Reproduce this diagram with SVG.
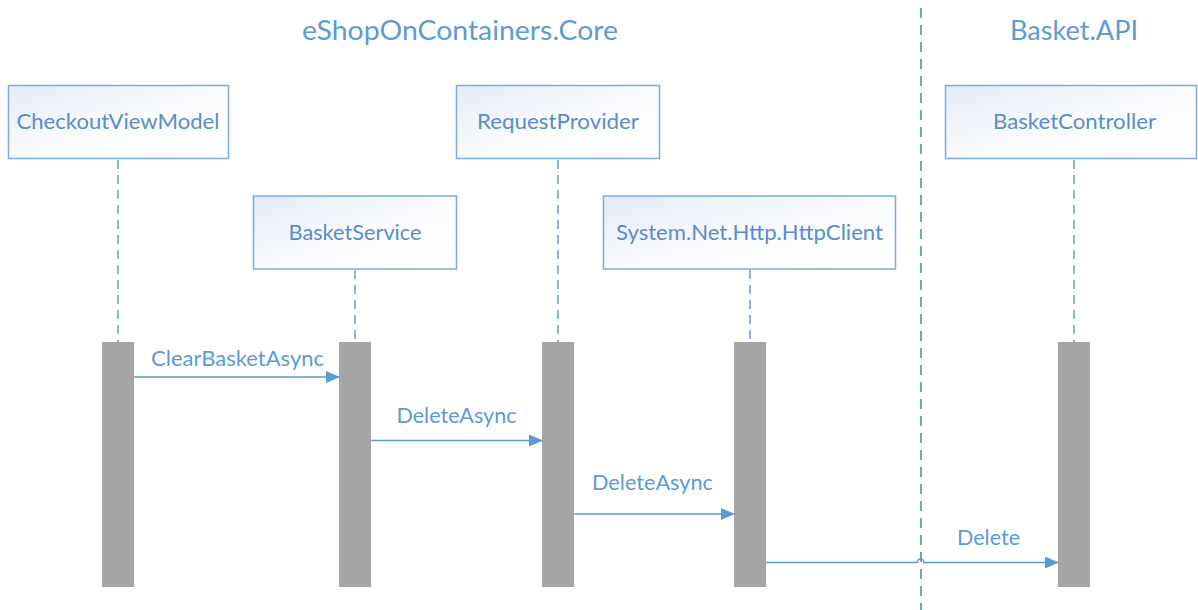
<svg xmlns="http://www.w3.org/2000/svg" width="1198" height="610" viewBox="0 0 1198 610">
<defs>
<linearGradient id="boxfill" x1="0" y1="0" x2="1" y2="1">
<stop offset="0" stop-color="#E4EBF6"/>
<stop offset="0.55" stop-color="#FBFCFE"/>
<stop offset="1" stop-color="#FFFFFF"/>
</linearGradient>
<marker id="arrow" markerWidth="14" markerHeight="12" refX="13" refY="6" orient="auto" markerUnits="userSpaceOnUse">
<path d="M0,0 L14,6 L0,12 Z" fill="#5B9BD5"/>
</marker>
<style>
.box{fill:url(#boxfill);stroke:#7EA9DA;stroke-width:1.5}
.lbl{font-family:Lato,"Open Sans","Liberation Sans",sans-serif;font-size:21px;fill:#5A8CCB;text-anchor:middle}
.title{font-family:Lato,"Open Sans","Liberation Sans",sans-serif;font-size:27px;fill:#5B9BD5;text-anchor:middle}
.msg{font-family:Lato,"Open Sans","Liberation Sans",sans-serif;font-size:21px;fill:#5B9BD5;text-anchor:middle}
.life{stroke:#6FA3DA;stroke-width:1.6;stroke-dasharray:9,6;fill:none}
.sep{stroke:#5B9BD5;stroke-width:1.8;stroke-dasharray:10,7;fill:none}
.bar{fill:#A5A5A5}
.arr{stroke:#5B9BD5;stroke-width:1.5;fill:none;marker-end:url(#arrow)}
</style>
</defs>
<rect width="1198" height="610" fill="#FFFFFF"/>
<text class="title" x="460" y="40" textLength="316" lengthAdjust="spacingAndGlyphs">eShopOnContainers.Core</text>
<text class="title" x="1074" y="40" textLength="128" lengthAdjust="spacingAndGlyphs">Basket.API</text>
<line class="sep" x1="921" y1="8" x2="921" y2="610"/>
<g id="lifelines">
<line class="life" x1="118" y1="160" x2="118" y2="342"/>
<line class="life" x1="355" y1="270" x2="355" y2="342"/>
<line class="life" x1="558" y1="160" x2="558" y2="342"/>
<line class="life" x1="750" y1="270" x2="750" y2="342"/>
<line class="life" x1="1074" y1="160" x2="1074" y2="342"/>
</g>
<g id="CheckoutViewModel">
<rect class="box" x="8.5" y="85.5" width="220" height="73"/>
<text class="lbl" x="118" y="129" textLength="203" lengthAdjust="spacingAndGlyphs">CheckoutViewModel</text>
<rect class="bar" x="102" y="342" width="32" height="245"/>
</g>
<g id="BasketService">
<rect class="box" x="253.5" y="196" width="203" height="73"/>
<text class="lbl" x="355" y="239.5" textLength="133" lengthAdjust="spacingAndGlyphs">BasketService</text>
<rect class="bar" x="339" y="342" width="32" height="245"/>
</g>
<g id="RequestProvider">
<rect class="box" x="456.5" y="85.5" width="203" height="73"/>
<text class="lbl" x="558" y="129" textLength="162" lengthAdjust="spacingAndGlyphs">RequestProvider</text>
<rect class="bar" x="542" y="342" width="32" height="245"/>
</g>
<g id="HttpClient">
<rect class="box" x="603.5" y="196" width="292" height="73"/>
<text class="lbl" x="749.5" y="240" textLength="267" lengthAdjust="spacingAndGlyphs">System.Net.Http.HttpClient</text>
<rect class="bar" x="734" y="342" width="32" height="245"/>
</g>
<g id="BasketController">
<rect class="box" x="945.5" y="85.5" width="251" height="73"/>
<text class="lbl" x="1074.5" y="128.5" textLength="163" lengthAdjust="spacingAndGlyphs">BasketController</text>
<rect class="bar" x="1058" y="342" width="32" height="245"/>
</g>
<g id="connectors">
<line class="arr" x1="134" y1="377" x2="339" y2="377"/>
<text class="msg" x="237.5" y="365.5" textLength="173" lengthAdjust="spacingAndGlyphs">ClearBasketAsync</text>
<line class="arr" x1="371" y1="440.5" x2="542" y2="440.5"/>
<text class="msg" x="456.5" y="423" textLength="120" lengthAdjust="spacingAndGlyphs">DeleteAsync</text>
<line class="arr" x1="574" y1="514" x2="734" y2="514"/>
<text class="msg" x="652.5" y="490" textLength="121" lengthAdjust="spacingAndGlyphs">DeleteAsync</text>
<path class="arr" d="M766,562.5 L917,562.5 A3.5,3.5 0 0 1 924,562.5 L1058,562.5"/>
<text class="msg" x="988.5" y="545" textLength="63" lengthAdjust="spacingAndGlyphs">Delete</text>
</g>
</svg>
